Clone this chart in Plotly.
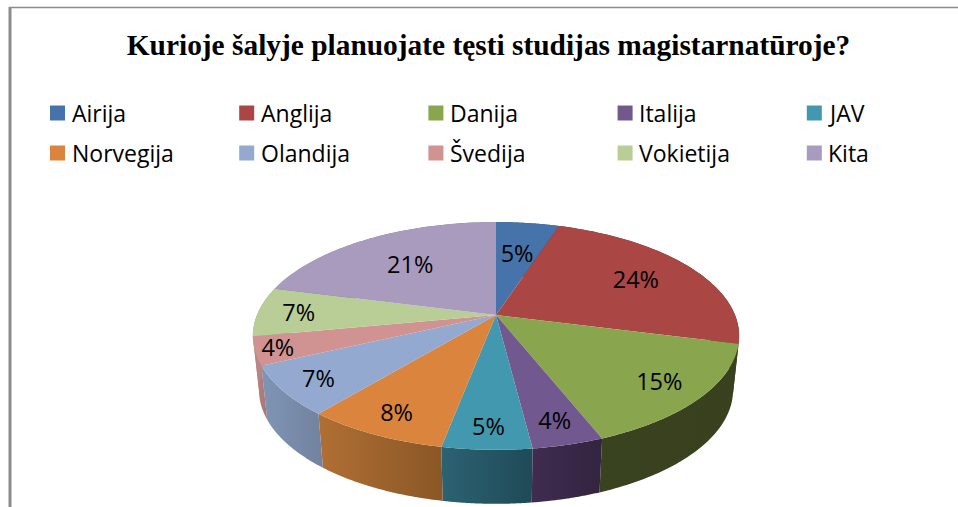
import numpy as np
import plotly.graph_objects as go

title_text = "Kurioje šalyje planuojate tęsti studijas magistarnatūroje?"
categories = ["Airija", "Anglija", "Danija", "Italija", "JAV",
              "Norvegija", "Olandija", "Švedija", "Vokietija", "Kita"]
values = [5, 24, 15, 4, 5, 8, 7, 4, 7, 21]
top_colors = ["#4674AA", "#AA4644", "#89A54E", "#71588F", "#4198AF",
              "#DB843D", "#93A9CF", "#D19392", "#B9CD96", "#A99BBD"]
side_left = ["#2F4E72", "#37401F", "#3A4320", "#3F2C50", "#2C6272",
             "#B06F34", "#7F95B5", "#B98585", "#B98585", "#7D7390"]
side_right = ["#2F4E72", "#37401F", "#38401E", "#332440", "#1F4A57",
              "#8A5726", "#72829F", "#A87575", "#B98585", "#7D7390"]
label_radii = [0.63, 0.71, 0.82, 0.84, 0.85, 0.84, 0.85, 0.91, 0.83, 0.64]

# Projection of the tilted disc into the page
CX, CY = 496, 315
RX, RY, PERSP = 239, 110, 0.184
DEPTH, BASE_SCALE = 54, 0.975


def project(ang, r=1.0):
    u, v = r * np.sin(ang), r * np.cos(ang)
    w = 1 + PERSP * v
    return CX + RX * u / w, CY - RY * v / w


fig = go.Figure()
total = sum(values)
edges = 2 * np.pi * np.cumsum([0] + values) / total

# side walls first
for i in range(len(values)):
    a = np.linspace(edges[i], edges[i + 1], 60)
    x, y = project(a)
    xb = CX + (x - CX) * BASE_SCALE
    yb = y + DEPTH
    fig.add_trace(go.Scatter(
        x=np.r_[x, xb[::-1], x[0]], y=np.r_[y, yb[::-1], y[0]],
        mode="none", fill="toself",
        fillgradient=dict(type="horizontal",
                          colorscale=[[0, side_left[i]], [1, side_right[i]]]),
        showlegend=False, hoverinfo="skip"))

# top faces
for i in range(len(values)):
    a = np.linspace(edges[i], edges[i + 1], 60)
    x, y = project(a)
    fig.add_trace(go.Scatter(
        x=np.r_[CX, x, CX], y=np.r_[CY, y, CY],
        mode="none", fill="toself", fillcolor=top_colors[i],
        showlegend=False, hoverinfo="skip"))

# percentage labels
mids = (edges[:-1] + edges[1:]) / 2
pts = [project(m, r) for m, r in zip(mids, label_radii)]
lx = [p[0] for p in pts]
ly = [p[1] + 3 for p in pts]
fig.add_trace(go.Scatter(
    x=lx, y=ly, mode="text", text=[f"{v}%" for v in values],
    textfont=dict(family="Open Sans", size=23.5, color="#000000"),
    textposition="middle center", showlegend=False, hoverinfo="skip"))

# legend grid: two rows of five
COLS = 5
col_x = lambda c: 57.5 + 189.2 * c
row_y = lambda r: 113 + 40 * r
fig.add_trace(go.Scatter(
    x=[col_x(i % COLS) for i in range(len(categories))],
    y=[row_y(i // COLS) for i in range(len(categories))],
    mode="markers",
    marker=dict(symbol="square", size=15, color=top_colors, line=dict(width=0)),
    showlegend=False, hoverinfo="skip"))
for i, name in enumerate(categories):
    fig.add_annotation(x=col_x(i % COLS) + 12, y=row_y(i // COLS), text=name,
                       showarrow=False, xanchor="left", yanchor="middle",
                       font=dict(family="Open Sans", size=23, color="#000000"))

# outer frame of the clipped picture
fig.add_shape(type="line", xref="paper", yref="paper", x0=10 / 958, x1=10 / 958,
              y0=0, y1=1 - 7 / 507, line=dict(color="#8C8C8C", width=3))
fig.add_shape(type="line", xref="paper", yref="paper", x0=9 / 958, x1=1,
              y0=1 - 7.5 / 507, y1=1 - 7.5 / 507, line=dict(color="#8C8C8C", width=1.5))

fig.update_layout(
    width=958, height=507, margin=dict(l=0, r=0, t=0, b=0),
    paper_bgcolor="white", plot_bgcolor="white", showlegend=False,
    title=dict(text=f"<b>{title_text}</b>", x=488.5 / 958, xanchor="center",
               y=1 - 45 / 507, yanchor="middle", yref="container",
               font=dict(family="Liberation Serif", size=29.4, color="#000000")),
    xaxis=dict(range=[0, 958], visible=False, fixedrange=True),
    yaxis=dict(range=[507, 0], visible=False, fixedrange=True),
)
fig.write_html("out.html", config={"displayModeBar": False},
               post_script="document.body.style.margin='0';document.documentElement.style.overflow='hidden';")
